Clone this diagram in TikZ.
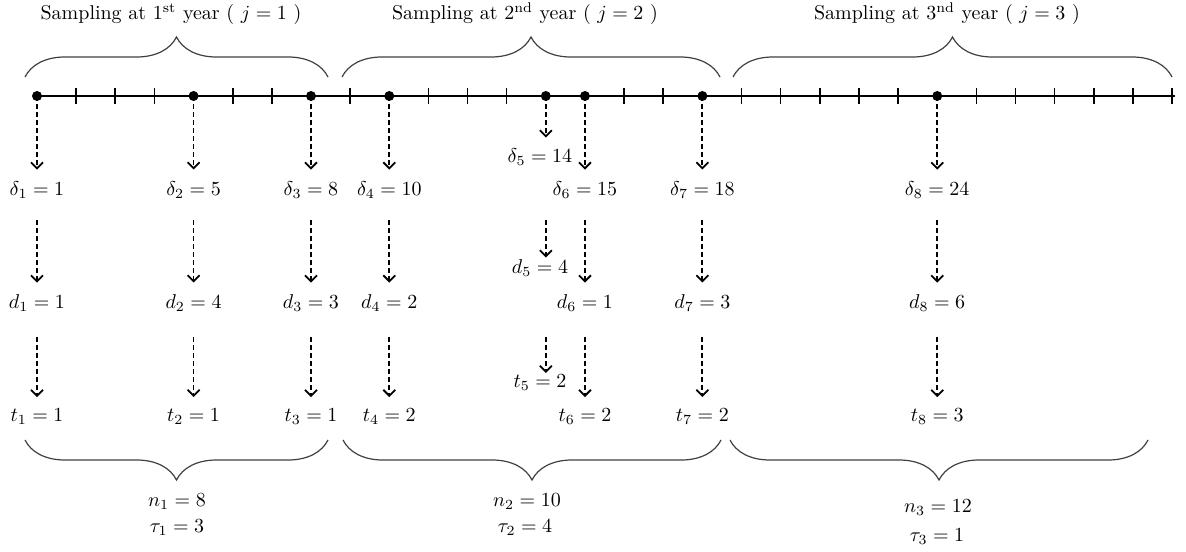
\documentclass[tikz,border=0pt]{standalone}
\usepackage{amsmath}
\usepackage{amssymb}
\usetikzlibrary{arrows.meta,decorations.pathreplacing}

\tikzset{
  dasharrow/.style={line width=0.9pt, dash pattern=on 2.5pt off 1.5pt,
    -{Straight Barb[length=3pt,width=6pt]}, shorten >=2.8pt},
  tightarrow/.style={dasharrow, shorten >=-2.2pt},
  bracedeco/.style={decorate, decoration={brace, amplitude=20pt},
    line width=0.6pt, black!75},
  lab/.style={inner sep=3pt},
}

\begin{document}
\begin{tikzpicture}[x=0.5pt,y=-0.5pt]
\useasboundingbox (0,0) rectangle (1186,551);

% rows
\coordinate (rowdel) at (0,190);
\coordinate (rowd) at (0,303);
\coordinate (rowt) at (0,417);
\coordinate (rowa) at (0,220);
\coordinate (rowb) at (0,337);

% time axis
\coordinate (axisend) at (1175,96);
\foreach \k/\n in {1/1,5/2,8/3,10/4,14/5,15/6,18/7,24/8}
  \coordinate (p\n) at ({37+(\k-1)*39.14},96);
\draw[line width=0.8pt] (p1) -- (axisend);
\foreach \k in {2,3,4,6,7,9,11,12,13,16,17,19,20,21,22,23,25,26,27,28,29,30}
  \draw[line width=0.8pt] ({37+(\k-1)*39.14},88) -- ({37+(\k-1)*39.14},104);
\foreach \n in {1,...,8}
  \fill (p\n) circle (2.5pt);

% top braces and titles
\foreach \a/\b in {25/328,342/720,733/1172}
  \draw[bracedeco] (\a,77) -- (\b,77);
\node (title1) at (171,14) {Sampling at 1\textsuperscript{st} year ( $j = 1$ )};
\node (title2) at (525,14) {Sampling at 2\textsuperscript{nd} year ( $j = 2$ )};
\node (title3) at (947,14) {Sampling at 3\textsuperscript{nd} year ( $j = 3$ )};

% columns
\foreach \n/\dv/\ddv/\tv in {1/1/1/1,2/5/4/1,3/8/3/1,4/10/2/2,6/15/1/2,7/18/3/2,8/24/6/3}{
  \node[lab] (del\n) at (p\n |- rowdel) {$\delta_{\n} = \dv$};
  \node[lab] (dd\n) at (p\n |- rowd) {$d_{\n} = \ddv$};
  \node[lab] (tt\n) at (p\n |- rowt) {$t_{\n} = \tv$};
  \draw[dasharrow] (p\n) -- (p\n |- del\n.north);
  \draw[dasharrow] (p\n |- rowa) -- (p\n |- dd\n.north);
  \draw[dasharrow] (p\n |- rowb) -- (p\n |- tt\n.north);
}

% column 5
\node[lab] (del5) at (540,157) {$\delta_5 = 14$};
\node[lab] (dd5) at (540,268) {$d_5 = 4$};
\node[lab] (tt5) at (540,383) {$t_5 = 2$};
\draw[dasharrow, shorten >=2.3pt] (p5) -- (p5 |- del5.north);
\draw[tightarrow] (p5 |- rowa) -- (p5 |- dd5.north);
\draw[tightarrow] (p5 |- rowb) -- (p5 |- tt5.north);

% bottom braces and totals
\foreach \a/\b in {25/328,343/721,730/1148}
  \draw[bracedeco] (\b,440) -- (\a,440);
\node (n1) at (177,502) {$n_1 = 8$};
\node (tau1) at (177,528) {$\tau_1 = 3$};
\node (n2) at (527,502) {$n_2 = 10$};
\node (tau2) at (525,528) {$\tau_2 = 4$};
\node (n3) at (938,508) {$n_3 = 12$};
\node (tau3) at (937,537) {$\tau_3 = 1$};
\end{tikzpicture}
\end{document}
